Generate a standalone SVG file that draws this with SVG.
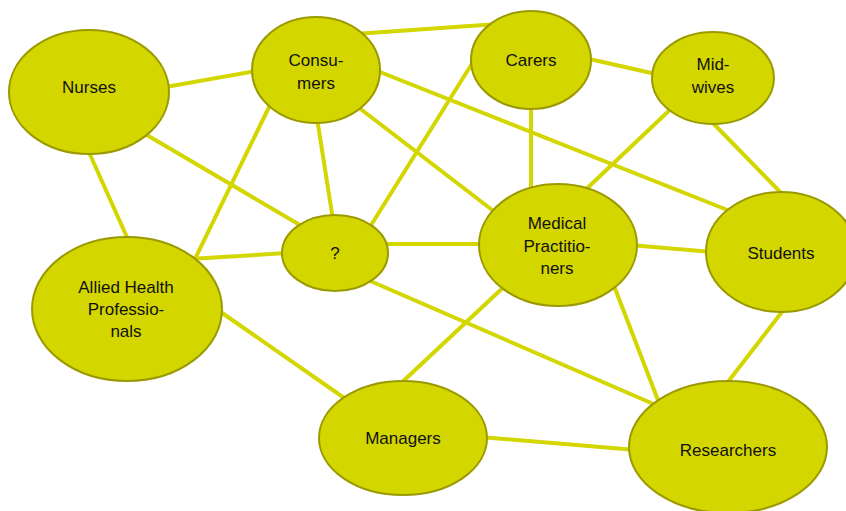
<svg xmlns="http://www.w3.org/2000/svg" width="846" height="511" viewBox="0 0 846 511">
<style>
.n{fill:#D4D600;stroke:#9A9A00;stroke-width:2}
.t{font-family:"Liberation Sans",Arial,sans-serif;font-size:17px;fill:#111;text-anchor:middle}
#connectors line{stroke:#D4D600;stroke-width:4;stroke-linecap:butt}
</style>
<rect width="846" height="511" fill="#fff"/>
<g id="connectors">
<line x1="160" y1="88" x2="262" y2="70"/>
<line x1="140" y1="131" x2="305" y2="228"/>
<line x1="88" y1="150" x2="130" y2="244"/>
<line x1="355" y1="34" x2="498" y2="24"/>
<line x1="317" y1="118" x2="333" y2="220"/>
<line x1="270" y1="105" x2="193" y2="263"/>
<line x1="358" y1="107" x2="500" y2="216"/>
<line x1="375" y1="70" x2="735" y2="213"/>
<line x1="478" y1="54" x2="368" y2="230"/>
<line x1="531" y1="100" x2="531" y2="195"/>
<line x1="585" y1="58" x2="660" y2="75"/>
<line x1="675" y1="105" x2="580" y2="195"/>
<line x1="708" y1="118" x2="785" y2="197"/>
<line x1="287" y1="253" x2="190" y2="259"/>
<line x1="385" y1="244" x2="485" y2="244"/>
<line x1="368" y1="280" x2="665" y2="409"/>
<line x1="215" y1="308" x2="350" y2="402"/>
<line x1="630" y1="245" x2="712" y2="252"/>
<line x1="508" y1="283" x2="398" y2="386"/>
<line x1="611" y1="278" x2="661" y2="408"/>
<line x1="785" y1="308" x2="724" y2="387"/>
<line x1="480" y1="437" x2="636" y2="450"/>
</g>
<g id="nurses"><ellipse class="n" cx="89" cy="92" rx="80" ry="62"/><text class="t" x="89" y="93">Nurses</text></g>
<g id="consumers"><ellipse class="n" cx="316" cy="70" rx="64" ry="53"/><text class="t" x="316" y="66">Consu-</text><text class="t" x="316" y="89">mers</text></g>
<g id="carers"><ellipse class="n" cx="531" cy="60" rx="60" ry="49"/><text class="t" x="531" y="66">Carers</text></g>
<g id="midwives"><ellipse class="n" cx="713" cy="78" rx="61" ry="46"/><text class="t" x="713" y="70">Mid-</text><text class="t" x="713" y="93">wives</text></g>
<g id="question"><ellipse class="n" cx="335" cy="253" rx="53" ry="38"/><text class="t" x="335" y="259">?</text></g>
<g id="medical"><ellipse class="n" cx="558" cy="245" rx="79" ry="61"/><text class="t" x="557" y="229">Medical</text><text class="t" x="557" y="252">Practitio-</text><text class="t" x="557" y="274">ners</text></g>
<g id="students"><ellipse class="n" cx="781" cy="252" rx="75" ry="60"/><text class="t" x="781" y="259">Students</text></g>
<g id="allied"><ellipse class="n" cx="127" cy="309" rx="95" ry="72"/><text class="t" x="126" y="293">Allied Health</text><text class="t" x="126" y="315">Professio-</text><text class="t" x="126" y="337">nals</text></g>
<g id="managers"><ellipse class="n" cx="403" cy="438" rx="84" ry="57"/><text class="t" x="403" y="444">Managers</text></g>
<g id="researchers"><ellipse class="n" cx="728" cy="447" rx="99" ry="66"/><text class="t" x="728" y="456">Researchers</text></g>
</svg>
